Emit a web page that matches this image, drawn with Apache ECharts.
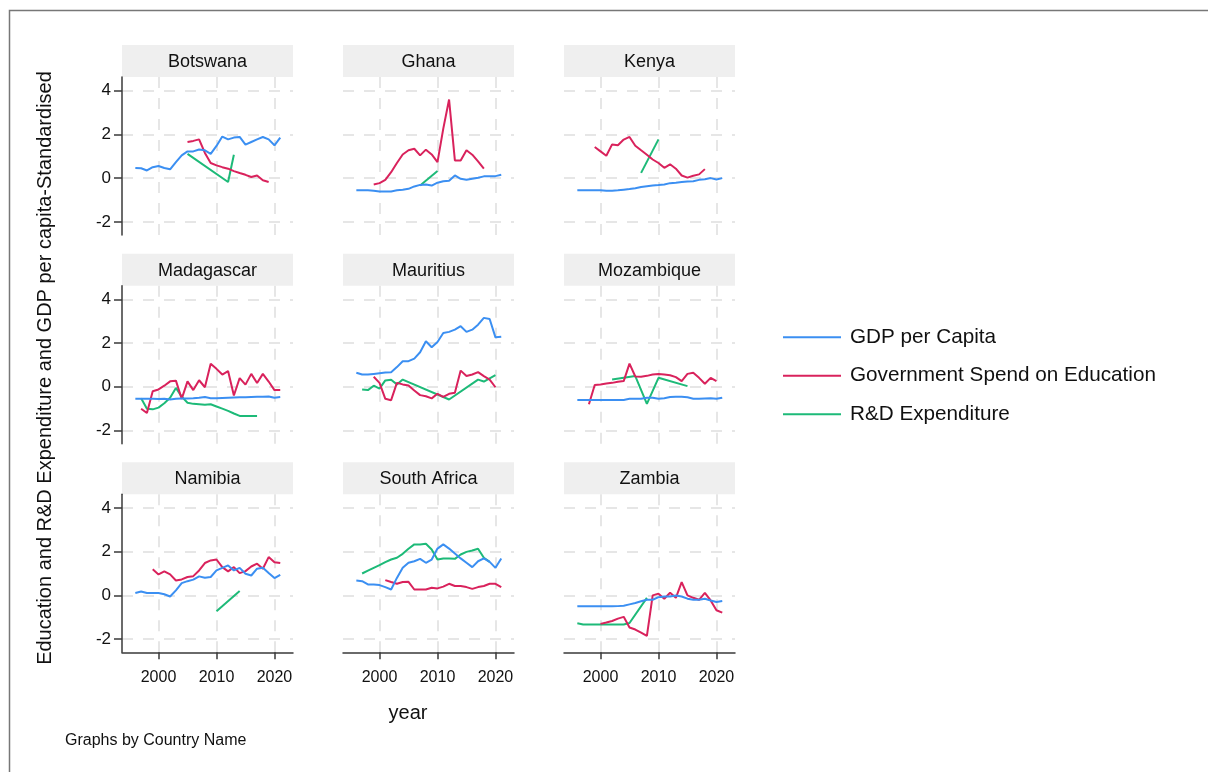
<!DOCTYPE html>
<html>
<head>
<meta charset="utf-8">
<title>Education, R&amp;D and GDP per capita by country</title>
<script src="https://cdn.jsdelivr.net/npm/echarts@6/dist/echarts.min.js"></script>
<style>
  html, body { margin: 0; padding: 0; background: #ffffff; }
  #chart { width: 1208px; height: 772px; }
</style>
</head>
<body>
<div id="chart"></div>
<script>
// ---- data (standardised values, one entry per year 1996..2021) ----
const YEARS = [1996, 1997, 1998, 1999, 2000, 2001, 2002, 2003, 2004, 2005, 2006, 2007, 2008,
               2009, 2010, 2011, 2012, 2013, 2014, 2015, 2016, 2017, 2018, 2019, 2020, 2021];
const COUNTRIES = ['Botswana', 'Ghana', 'Kenya', 'Madagascar', 'Mauritius', 'Mozambique',
                   'Namibia', 'South Africa', 'Zambia'];
const SERIES_NAMES = ['GDP per Capita', 'Government Spend on Education', 'R&D Expenditure'];
const X_TICKS = [2000, 2010, 2020];
const Y_TICKS = [-2, 0, 2, 4];

const BOTSWANA_GDP = [0.46, 0.45, 0.35, 0.5, 0.55, 0.46, 0.4, 0.73, 1.04, 1.22, 1.22, 1.31, 1.27,
                      1.11, 1.47, 1.9, 1.77, 1.85, 1.88, 1.53, 1.65, 1.77, 1.88, 1.77, 1.5, 1.85];
const BOTSWANA_EDU = [null, null, null, null, null, null, null, null, null, 1.65, 1.7, 1.77, 1.15,
                      0.69, 0.58, 0.5, 0.43, 0.32, 0.23, 0.15, 0.05, 0.12, -0.1, -0.18, null, null];
const BOTSWANA_RD = [null, null, null, null, null, null, null, null, null, 1.11, null, null, null,
                     null, null, null, -0.18, 1.07, null, null, null, null, null, null, null, null];

const GHANA_GDP = [-0.56, -0.56, -0.56, -0.58, -0.61, -0.61, -0.61, -0.56, -0.53, -0.49, -0.38, -0.31, -0.29,
                   -0.34, -0.21, -0.14, -0.12, 0.12, -0.03, -0.08, -0.03, 0.02, 0.08, 0.08, 0.09, 0.15];
const GHANA_EDU = [null, null, null, -0.29, -0.23, -0.08, 0.27, 0.69, 1.08, 1.27, 1.34, 1.04, 1.3,
                   1.08, 0.73, 2.26, 3.59, 0.81, 0.81, 1.27, 1.07, 0.76, 0.43, null, null, null];
const GHANA_RD = [null, null, null, null, null, null, null, null, null, null, null, -0.34, null,
                  null, 0.32, null, null, null, null, null, null, null, null, null, null, null];

const KENYA_GDP = [-0.56, -0.55, -0.55, -0.56, -0.56, -0.58, -0.58, -0.56, -0.53, -0.5, -0.46, -0.41, -0.37,
                   -0.34, -0.32, -0.29, -0.23, -0.21, -0.18, -0.15, -0.14, -0.08, -0.05, 0, -0.06, 0];
const KENYA_EDU = [null, null, null, 1.42, 1.22, 1.02, 1.54, 1.5, 1.76, 1.88, 1.48, 1.27, 1.07,
                   0.85, 0.69, 0.47, 0.63, 0.43, 0.12, 0.02, 0.11, 0.17, 0.41, null, null, null];
const KENYA_RD = [null, null, null, null, null, null, null, null, null, null, null, 0.24, null,
                  null, 1.77, null, null, null, null, null, null, null, null, null, null, null];

const MADAGASCAR_GDP = [-0.55, -0.55, -0.55, -0.55, -0.56, -0.55, -0.58, -0.55, -0.54, -0.53, -0.52, -0.5, -0.47,
                        -0.52, -0.52, -0.51, -0.5, -0.49, -0.48, -0.48, -0.47, -0.46, -0.45, -0.44, -0.5, -0.47];
const MADAGASCAR_EDU = [null, -1.0, -1.2, -0.2, -0.12, 0.05, 0.25, 0.28, -0.55, 0.25, -0.15, 0.3, -0.02,
                        1.05, 0.82, 0.56, 0.72, -0.4, 0.4, 0.1, 0.59, 0.17, 0.59, 0.24, -0.15, -0.15];
const MADAGASCAR_RD = [null, -0.52, -1.0, -1.03, -0.95, -0.75, -0.5, -0.05, -0.45, -0.73, -0.78, -0.8, -0.82,
                       -0.8, -0.9, -1.0, -1.1, -1.22, -1.33, -1.33, -1.33, -1.33, null, null, null, null];

const MAURITIUS_GDP = [0.64, 0.56, 0.56, 0.59, 0.62, 0.65, 0.67, 0.9, 1.17, 1.17, 1.29, 1.58, 2.08,
                       1.81, 2.05, 2.46, 2.51, 2.61, 2.77, 2.51, 2.61, 2.84, 3.15, 3.1, 2.26, 2.29];
const MAURITIUS_EDU = [null, null, null, 0.46, 0.18, -0.55, -0.61, 0.18, 0.11, 0.06, -0.17, -0.38, -0.43,
                       -0.53, -0.32, -0.46, -0.32, -0.27, 0.74, 0.49, 0.56, 0.67, 0.49, 0.33, -0.02, null];
const MAURITIUS_RD = [null, -0.12, -0.15, 0.05, -0.08, 0.29, 0.32, 0.11, 0.33, null, null, null, null,
                      null, null, null, -0.58, null, null, null, null, 0.33, 0.24, null, 0.53, null];

const MOZAMBIQUE_GDP = [-0.6, -0.6, -0.6, -0.6, -0.6, -0.6, -0.6, -0.6, -0.6, -0.55, -0.55, -0.55, -0.5,
                        -0.5, -0.55, -0.52, -0.47, -0.46, -0.46, -0.48, -0.55, -0.55, -0.53, -0.52, -0.55, -0.5];
const MOZAMBIQUE_EDU = [null, null, -0.8, 0.08, 0.11, 0.15, 0.18, 0.23, 0.26, 1.06, 0.47, 0.46, 0.5,
                        0.56, 0.59, 0.56, 0.53, 0.44, 0.26, 0.59, 0.64, 0.41, 0.14, 0.41, 0.26, null];
const MOZAMBIQUE_RD = [null, null, null, null, null, null, 0.33, null, null, null, 0.49, null, -0.78,
                       null, 0.41, null, null, null, null, 0.03, null, null, null, null, null, null];

const NAMIBIA_GDP = [0.11, 0.18, 0.11, 0.11, 0.11, 0.05, -0.05, 0.23, 0.56, 0.65, 0.72, 0.87, 0.81,
                     0.84, 1.14, 1.26, 1.37, 1.14, 1.26, 0.99, 0.91, 1.22, 1.26, 1.02, 0.79, 0.94];
const NAMIBIA_EDU = [null, null, null, 1.19, 0.96, 1.1, 0.96, 0.68, 0.73, 0.84, 0.88, 1.14, 1.48,
                     1.6, 1.64, 1.29, 1.1, 1.29, 1.02, 1.11, 1.32, 1.45, 1.22, 1.75, 1.52, 1.48];
const NAMIBIA_RD = [null, null, null, null, null, null, null, null, null, null, null, null, null,
                    null, -0.72, null, null, null, 0.2, null, null, null, null, null, null, null];

const SOUTH_AFRICA_GDP = [0.68, 0.65, 0.5, 0.5, 0.47, 0.38, 0.27, 0.8, 1.26, 1.49, 1.56, 1.67, 1.49,
                          1.64, 2.14, 2.33, 2.14, 1.91, 1.69, 1.49, 1.29, 1.56, 1.69, 1.53, 1.26, 1.69];
const SOUTH_AFRICA_EDU = [null, null, null, null, null, 0.7, 0.61, 0.53, 0.61, 0.62, 0.27, 0.27, 0.27,
                          0.35, 0.32, 0.4, 0.53, 0.43, 0.43, 0.38, 0.3, 0.38, 0.43, 0.53, 0.53, 0.38];
const SOUTH_AFRICA_RD = [null, 1.0, 1.13, 1.26, 1.38, 1.52, 1.64, 1.72, 1.9, 2.13, 2.33, 2.33, 2.36,
                         2.1, 1.64, 1.69, 1.69, 1.67, 1.87, 1.99, 2.05, 2.13, 1.72, 1.53, null, null];

const ZAMBIA_GDP = [-0.5, -0.49, -0.5, -0.5, -0.5, -0.5, -0.5, -0.49, -0.47, -0.41, -0.35, -0.27, -0.2,
                    -0.2, -0.08, -0.05, -0.05, 0, -0.05, -0.15, -0.2, -0.2, -0.15, -0.23, -0.3, -0.26];
const ZAMBIA_EDU = [null, null, null, null, -1.3, -1.24, -1.17, -1.06, -0.98, -1.47, -1.56, -1.7, -1.85,
                    0, 0.08, -0.15, 0.12, -0.11, 0.61, 0, -0.11, -0.2, 0.12, -0.23, -0.68, -0.79];
const ZAMBIA_RD = [-1.27, -1.33, -1.33, -1.33, -1.33, -1.33, -1.33, -1.33, -1.33, -1.26, null, null, -0.11,
                   null, null, null, null, null, null, null, null, null, null, null, null, null];

const PANEL_SERIES = [
  [BOTSWANA_GDP, BOTSWANA_EDU, BOTSWANA_RD],
  [GHANA_GDP, GHANA_EDU, GHANA_RD],
  [KENYA_GDP, KENYA_EDU, KENYA_RD],
  [MADAGASCAR_GDP, MADAGASCAR_EDU, MADAGASCAR_RD],
  [MAURITIUS_GDP, MAURITIUS_EDU, MAURITIUS_RD],
  [MOZAMBIQUE_GDP, MOZAMBIQUE_EDU, MOZAMBIQUE_RD],
  [NAMIBIA_GDP, NAMIBIA_EDU, NAMIBIA_RD],
  [SOUTH_AFRICA_GDP, SOUTH_AFRICA_EDU, SOUTH_AFRICA_RD],
  [ZAMBIA_GDP, ZAMBIA_EDU, ZAMBIA_RD]
];

// ---- styling / layout ----
const COLORS = ['#3b8ff2', '#d9225c', '#1dba78'];
const FONT = '"Liberation Sans", Arial, Helvetica, sans-serif';
const TEXT_COLOR = '#111111';
const AXIS_COLOR = '#3a3a3a';
const GRID_COLOR = '#e6e6e6';

const COL_LEFT = [122, 343, 564];
const STRIP_TOP = [45, 253.7, 462.3];
const PANEL_W = 171;
const STRIP_H = 32;
const PLOT_H = 158;
const X_MIN = 1993.7, X_MAX = 2023.2;
const Y_MIN = -2.6, Y_MAX = 4.62;

const grids = [], xAxes = [], yAxes = [], series = [], graphics = [];

// outer frame
graphics.push({
  type: 'rect', silent: true,
  shape: { x: 9.5, y: 10.5, width: 1210, height: 780 },
  style: { fill: 'none', stroke: '#777777', lineWidth: 1.5 }
});

COUNTRIES.forEach((country, i) => {
  const row = Math.floor(i / 3), col = i % 3;
  const left = COL_LEFT[col];
  const stripTop = STRIP_TOP[row];
  const plotTop = stripTop + STRIP_H;

  grids.push({ left: left, top: plotTop, width: PANEL_W, height: PLOT_H, containLabel: false });

  const gridLine = { show: true, lineStyle: { color: GRID_COLOR, width: 2, type: [11, 10] } };
  const isBottom = row === 2, isLeft = col === 0;

  xAxes.push({
    type: 'value', gridIndex: i, min: X_MIN, max: X_MAX,
    axisLine: { show: isBottom, onZero: false, lineStyle: { color: AXIS_COLOR, width: 1.5 } },
    axisTick: { show: isBottom, customValues: X_TICKS, length: 7, lineStyle: { color: AXIS_COLOR, width: 1.5 } },
    axisLabel: { show: isBottom, customValues: X_TICKS, formatter: v => String(v),
                 fontSize: 16, fontFamily: FONT, color: TEXT_COLOR, margin: 17 },
    splitLine: gridLine
  });
  yAxes.push({
    type: 'value', gridIndex: i, min: Y_MIN, max: Y_MAX,
    axisLine: { show: isLeft, onZero: false, lineStyle: { color: AXIS_COLOR, width: 1.5 } },
    axisTick: { show: isLeft, customValues: Y_TICKS, length: 8, lineStyle: { color: AXIS_COLOR, width: 1.5 } },
    axisLabel: { show: isLeft, customValues: Y_TICKS, formatter: v => String(v),
                 fontSize: 17, fontFamily: FONT, color: TEXT_COLOR, margin: 11 },
    splitLine: gridLine
  });

  PANEL_SERIES[i].forEach((values, k) => {
    const data = [];
    YEARS.forEach((yr, j) => { if (values[j] !== null) data.push([yr, values[j]]); });
    series.push({
      type: 'line', name: SERIES_NAMES[k], xAxisIndex: i, yAxisIndex: i,
      data: data, symbol: 'none', showSymbol: false, smooth: false, silent: true,
      lineStyle: { color: COLORS[k], width: 2 }, itemStyle: { color: COLORS[k] },
      z: 3 + (2 - k)
    });
  });

  // facet header strip
  graphics.push({
    type: 'rect', silent: true,
    shape: { x: left, y: stripTop, width: PANEL_W, height: STRIP_H },
    style: { fill: '#efefef' }
  });
  graphics.push({
    type: 'text', silent: true,
    x: left + PANEL_W / 2, y: stripTop + STRIP_H / 2 + 1,
    style: { text: country, font: '18px ' + FONT, fill: TEXT_COLOR, align: 'center', verticalAlign: 'middle' }
  });
});

// shared axis titles and note
graphics.push({
  type: 'text', silent: true, x: 45, y: 368, rotation: Math.PI / 2,
  style: { text: 'Education and R&D Expenditure and GDP per capita-Standardised', font: '20px ' + FONT,
           fill: TEXT_COLOR, align: 'center', verticalAlign: 'middle' }
});
graphics.push({
  type: 'text', silent: true, x: 408, y: 713,
  style: { text: 'year', font: '20px ' + FONT, fill: TEXT_COLOR, align: 'center', verticalAlign: 'middle' }
});
graphics.push({
  type: 'text', silent: true, x: 65, y: 741,
  style: { text: 'Graphs by Country Name', font: '16px ' + FONT, fill: TEXT_COLOR, align: 'left', verticalAlign: 'middle' }
});

const chart = echarts.init(document.getElementById('chart'), null, { renderer: 'canvas' });
chart.setOption({
  animation: false,
  backgroundColor: '#ffffff',
  grid: grids,
  xAxis: xAxes,
  yAxis: yAxes,
  series: series,
  legend: {
    data: SERIES_NAMES, orient: 'vertical', left: 778, top: 321.7,
    icon: 'rect', itemWidth: 58, itemHeight: 2, itemGap: 17.5, selectedMode: false,
    textStyle: { fontSize: 20.7, lineHeight: 20, fontFamily: FONT, color: TEXT_COLOR, padding: [0, 0, 0, 4] }
  },
  graphic: graphics
});
</script>
</body>
</html>
